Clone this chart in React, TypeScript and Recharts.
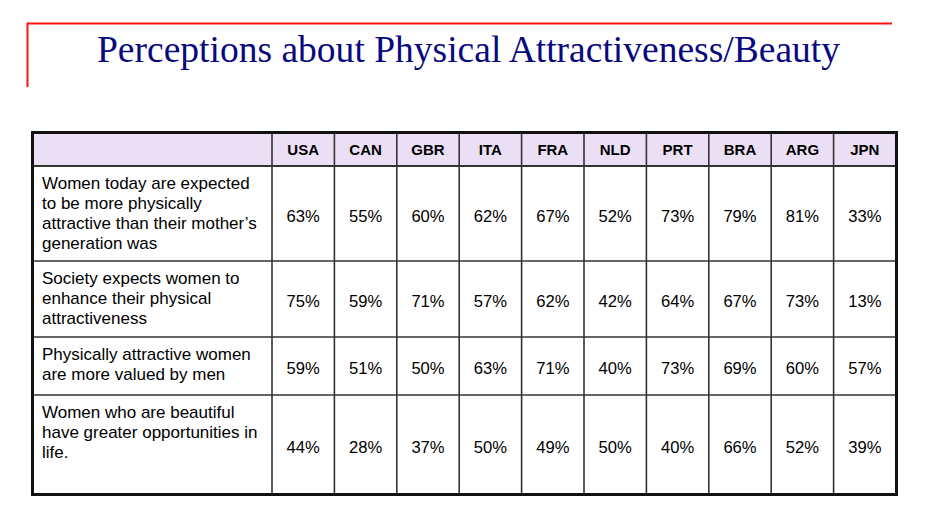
import { ScatterChart, Scatter, XAxis, YAxis } from 'recharts';

// countries (header row)
const COUNTRIES = ['USA', 'CAN', 'GBR', 'ITA', 'FRA', 'NLD', 'PRT', 'BRA', 'ARG', 'JPN'];

// statements, already wrapped as in the slide
const STATEMENTS = [
  ['Women today are expected', 'to be more physically', 'attractive than their mother\u2019s', 'generation was'],
  ['Society expects women to', 'enhance their physical', 'attractiveness'],
  ['Physically attractive women', 'are more valued by men'],
  ['Women who are beautiful', 'have greater opportunities in', 'life.'],
];

// % agreeing, per country (same order as COUNTRIES)
const EXPECTED_MORE = [63, 55, 60, 62, 67, 52, 73, 79, 81, 33];
const EXPECTED_ENHANCE = [75, 59, 71, 57, 62, 42, 64, 67, 73, 13];
const VALUED_BY_MEN = [59, 51, 50, 63, 71, 40, 73, 69, 60, 57];
const MORE_OPPORTUNITIES = [44, 28, 37, 50, 49, 50, 40, 66, 52, 39];

const SERIES = [EXPECTED_MORE, EXPECTED_ENHANCE, VALUED_BY_MEN, MORE_OPPORTUNITIES];

// layout
const W = 935;
const H = 525;
const TABLE_LEFT = 32;
const TABLE_RIGHT = 896;
const TABLE_TOP = 132;
const HEADER_H = 34;
const LABEL_W = 240;
const ROW_HEIGHTS = [95, 76, 58, 99];
const BODY_H = ROW_HEIGHTS.reduce((s, h) => s + h, 0);
const TABLE_BOTTOM = TABLE_TOP + HEADER_H + BODY_H;
const COL_W = (TABLE_RIGHT - TABLE_LEFT - LABEL_W) / COUNTRIES.length;

const rowTops = ROW_HEIGHTS.map((_, i) => ROW_HEIGHTS.slice(0, i).reduce((s, h) => s + h, 0));

const rowData = SERIES.map((vals, r) =>
  vals.map((pct, c) => ({
    country: COUNTRIES[c],
    row: rowTops[r] + ROW_HEIGHTS[r] / 2,
    pct,
  }))
);

const SANS = '"Liberation Sans", Arial, Helvetica, sans-serif';
const GRID = '#333';

const HeaderTick = (props: any) => {
  const { x, payload } = props;
  return (
    <g>
      <line x1={x - COL_W / 2} x2={x - COL_W / 2} y1={TABLE_TOP} y2={TABLE_BOTTOM} stroke={GRID} strokeWidth={1.6} />
      <text
        x={x}
        y={TABLE_TOP + HEADER_H / 2 + 5.5}
        textAnchor="middle"
        fontFamily={SANS}
        fontSize={15}
        fontWeight="bold"
        fill="#000"
      >
        {payload.value}
      </text>
    </g>
  );
};

const StatementTick = (props: any) => {
  const { y, index } = props;
  const lines = STATEMENTS[index] || [];
  return (
    <g>
      <line x1={TABLE_LEFT} x2={TABLE_RIGHT} y1={y} y2={y} stroke={GRID} strokeWidth={index === 0 ? 2 : 1.6} />
      {lines.map((t, i) => (
        <text key={i} x={TABLE_LEFT + 10} y={y + 23 + i * 20} fontFamily={SANS} fontSize={17} fill="#000">
          {t}
        </text>
      ))}
    </g>
  );
};

const PercentCell = (props: any) => {
  const { cx, cy, payload } = props;
  return (
    <text x={cx} y={cy + 8} textAnchor="middle" fontFamily={SANS} fontSize={16.6} fill="#000">
      {`${payload.pct}%`}
    </text>
  );
};

export default function App() {
  return (
    <div style={{ position: 'absolute', left: 0, top: 0, width: W, height: H, background: '#fff' }}>
      <svg width={W} height={H} style={{ position: 'absolute', left: 0, top: 0 }}>
        <line x1={27.5} x2={892} y1={23.5} y2={23.5} stroke="#f11" strokeWidth={2} />
        <line x1={27.5} x2={27.5} y1={22.5} y2={87} stroke="#f11" strokeWidth={2} />
        <text
          x={468.5}
          y={62}
          textAnchor="middle"
          fontFamily='"Liberation Serif", "Times New Roman", serif'
          fontSize={37}
          fill="#08087f"
          textLength={743}
          lengthAdjust="spacingAndGlyphs"
        >
          Perceptions about Physical Attractiveness/Beauty
        </text>
        <rect x={TABLE_LEFT} y={TABLE_TOP} width={TABLE_RIGHT - TABLE_LEFT} height={HEADER_H} fill="#ebdff5" />
      </svg>
      <div style={{ position: 'absolute', left: 0, top: 0 }}>
        <ScatterChart
          width={W}
          height={H}
          margin={{ top: TABLE_TOP, right: W - TABLE_RIGHT, bottom: H - TABLE_BOTTOM, left: TABLE_LEFT }}
        >
          <XAxis
            xAxisId={0}
            dataKey="country"
            type="category"
            allowDuplicatedCategory={false}
            orientation="top"
            height={HEADER_H}
            tickLine={false}
            axisLine={false}
            interval={0}
            tick={<HeaderTick />}
          />
          <YAxis
            yAxisId={0}
            dataKey="row"
            type="number"
            domain={[0, BODY_H]}
            reversed
            ticks={rowTops}
            interval={0}
            width={LABEL_W}
            tickLine={false}
            axisLine={false}
            tick={<StatementTick />}
          />
          {rowData.map((d, i) => (
            <Scatter key={i} data={d} dataKey="row" shape={<PercentCell />} isAnimationActive={false} />
          ))}
        </ScatterChart>
      </div>
      <div
        style={{
          position: 'absolute',
          left: TABLE_LEFT - 1.5,
          top: TABLE_TOP - 1.5,
          width: TABLE_RIGHT - TABLE_LEFT + 3,
          height: TABLE_BOTTOM - TABLE_TOP + 3,
          border: '3px solid #111',
          boxSizing: 'border-box',
          pointerEvents: 'none',
        }}
      />
    </div>
  );
}
